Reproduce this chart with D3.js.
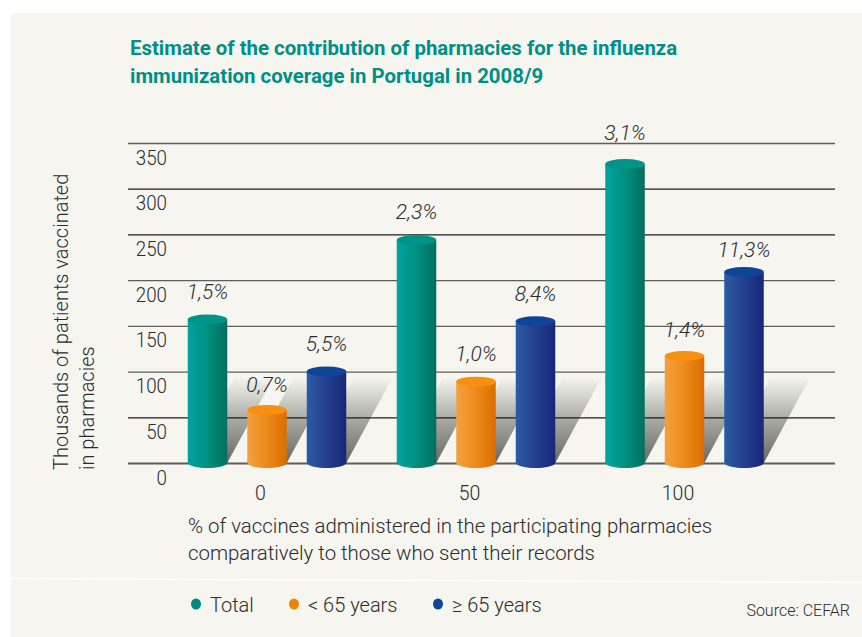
<!DOCTYPE html>
<html>
<head>
<meta charset="utf-8">
<script src="https://cdn.jsdelivr.net/npm/d3@7"></script>
<style>
html, body { margin: 0; padding: 0; background: #fff; }
svg { display: block; }
text { font-family: "Roboto", sans-serif; font-weight: 300; fill: #2b2b2b; }
</style>
</head>
<body>
<div id="chart"></div>
<script>
const categories = ["0", "50", "100"];
const seriesNames = ["Total", "< 65 years", "≥ 65 years"];
const totalValues = [157, 244, 327];
const under65Values = [58, 89, 117];
const over65Values = [100, 155, 209];
const totalLabels = ["1,5%", "2,3%", "3,1%"];
const under65Labels = ["0,7%", "1,0%", "1,4%"];
const over65Labels = ["5,5%", "8,4%", "11,3%"];
const yTicks = [0, 50, 100, 150, 200, 250, 300, 350];
const greyLines = [0, 100, 150, 200, 350];

const width = 862, height = 637;
const svg = d3.select("#chart").append("svg").attr("width", width).attr("height", height);

// panel
svg.append("rect").attr("x", 11).attr("y", 13).attr("width", width - 11).attr("height", height - 13).attr("fill", "#f6f5ef");
svg.append("line").attr("x1", 11).attr("x2", width).attr("y1", 578.5).attr("y2", 582.5).attr("stroke", "#fff").attr("stroke-width", 1.5);

// title
["Estimate of the contribution of pharmacies for the influenza", "immunization coverage in Portugal in 2008/9"].forEach((t, i) => {
	svg.append("text").attr("x", 130).attr("y", 55 + i * 27.5).attr("font-size", 20.4).text(t)
		.style("fill", "#008f85").style("font-weight", 700);
});

// scales
const y = d3.scaleLinear().domain([0, 350]).range([463, 143]);
const x0 = d3.scaleOrdinal().domain(categories).range([267, 476, 684.5]);
const offsets = [-59.5, 0, 59.5];
const barW = 39.5;

const defs = svg.append("defs");
function grad(id, stops, horizontal) {
	const g = defs.append("linearGradient").attr("id", id)
		.attr("x1", 0).attr("y1", horizontal ? 0 : 1).attr("x2", horizontal ? 1 : 0).attr("y2", 0);
	stops.forEach(s => g.append("stop").attr("offset", s[0]).attr("stop-color", s[1]));
}
grad("shadow", [[0, "#686862"], [0.5, "#a8a8a2"], [0.78, "#d4d4ce"], [1, "#f4f3ed"]], false);
const colors = [
	{body: "body0", top: "#009388", stops: [[0, "#00a3a1"], [0.5, "#00907f"], [1, "#006f5f"]]},
	{body: "body1", top: "#f8900f", stops: [[0, "#f4a040"], [0.5, "#ee8a1a"], [1, "#dc6c00"]]},
	{body: "body2", top: "#0f4596", stops: [[0, "#2c5ba6"], [0.5, "#233f8e"], [1, "#16277a"]]}
];
colors.forEach(c => grad(c.body, c.stops, true));

// shadows go under the grid lines
const shadowG = svg.append("g");
const shadowTop = 378, shadowDx = 46;
categories.forEach(c => {
	offsets.forEach(o => {
		const cx = x0(c) + o;
		const l = cx - barW / 2, r = cx + barW / 2;
		const p = d3.path();
		p.moveTo(l, y(0));
		p.lineTo(r, y(0));
		p.lineTo(r + shadowDx, shadowTop);
		p.lineTo(l + shadowDx, shadowTop);
		p.closePath();
		shadowG.append("path").attr("d", p.toString()).attr("fill", "url(#shadow)");
	});
});

// grid
const gridG = svg.append("g").attr("transform", "translate(835,0)");
gridG.call(d3.axisRight(y).tickValues(yTicks).tickSize(-707).tickFormat(""));
gridG.select(".domain").remove();
gridG.selectAll("line")
	.attr("stroke", d => greyLines.includes(d) ? "#5f5f5a" : "#1c1c1c")
	.attr("stroke-width", d => d === 0 ? 1.8 : 1.3);

// y tick labels sit below their grid line
svg.append("g").selectAll("text").data(yTicks).join("text")
	.attr("x", 167).attr("y", d => y(d) + 21.5).attr("text-anchor", "end").attr("font-size", 21)
	.attr("textLength", d => String(d).length * 10.4).attr("lengthAdjust", "spacingAndGlyphs")
	.text(d => d);

// bars
const allValues = [totalValues, under65Values, over65Values];
const allLabels = [totalLabels, under65Labels, over65Labels];
// label gaps differ a bit from bar to bar in the original
const labelGaps = [[20, 21, 24], [18, 21, 19], [21, 20, 15]];
categories.forEach((c, ci) => {
	allValues.forEach((vals, si) => {
		const cx = x0(c) + offsets[si];
		const l = cx - barW / 2, r = cx + barW / 2;
		const yt = y(vals[ci]), yb = y(0);
		const p = d3.path();
		p.moveTo(l, yt);
		p.lineTo(l, yb);
		p.bezierCurveTo(l + 3, yb + 6.7, r - 3, yb + 6.7, r, yb);
		p.lineTo(r, yt);
		p.closePath();
		svg.append("path").attr("d", p.toString()).attr("fill", `url(#${colors[si].body})`);
		svg.append("ellipse").attr("cx", cx).attr("cy", yt).attr("rx", barW / 2).attr("ry", 5).attr("fill", colors[si].top);
		svg.append("text").attr("x", cx).attr("y", yt - labelGaps[si][ci]).attr("text-anchor", "middle")
			.attr("font-size", 21).style("font-style", "italic").text(allLabels[si][ci]);
	});
});

// x labels
svg.append("g").selectAll("text").data(categories).join("text")
	.attr("x", d => x0(d) - 6.5).attr("y", 500).attr("text-anchor", "middle").attr("font-size", 19.5).text(d => d);

["% of vaccines administered in the participating pharmacies", "comparatively to those who sent their records"].forEach((t, i) => {
	svg.append("text").attr("x", 188).attr("y", 533 + i * 26.5).attr("font-size", 20.4).text(t);
});

// y title
const yTitle = svg.append("text").attr("transform", "translate(68,470) rotate(-90)").attr("font-size", 20);
yTitle.append("tspan").attr("x", 0).attr("y", 0).text("Thousands of patients vaccinated");
yTitle.append("tspan").attr("x", 0).attr("y", 26).text("in pharmacies");

// legend
const legendX = [196, 294, 438];
const legendColors = ["#00897f", "#f08400", "#0f4596"];
seriesNames.forEach((s, i) => {
	svg.append("ellipse").attr("cx", legendX[i]).attr("cy", 604).attr("rx", 5).attr("ry", 5.5).attr("fill", legendColors[i]);
	svg.append("text").attr("x", legendX[i] + 14).attr("y", 612).attr("font-size", 20).text(s);
});
svg.append("text").attr("x", 850).attr("y", 616).attr("text-anchor", "end").attr("font-size", 16).text("Source: CEFAR");
</script>
</body>
</html>
